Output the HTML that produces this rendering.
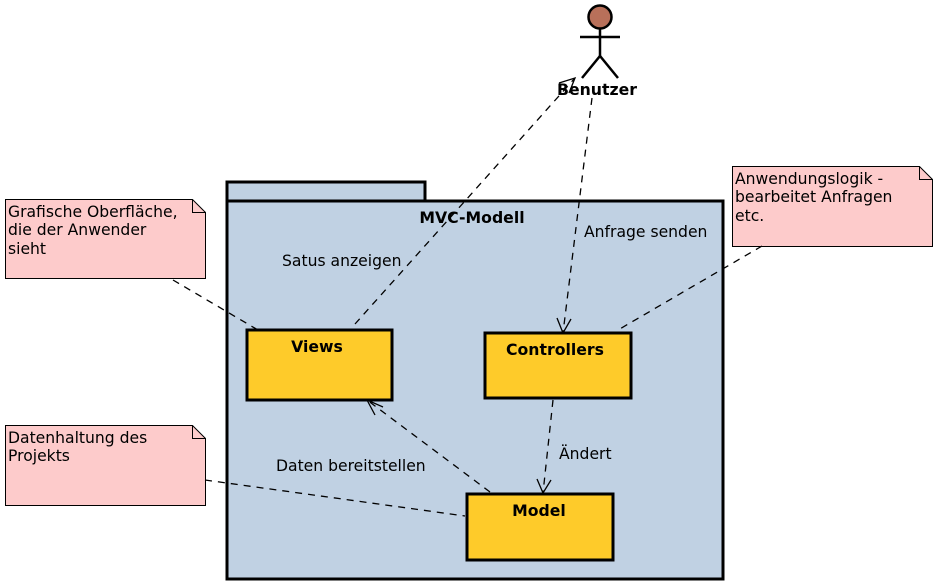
<!DOCTYPE html>
<html><head><meta charset="utf-8"><style>
html,body{margin:0;padding:0;background:#fff;width:937px;height:586px;overflow:hidden}
svg text{font-family:"DejaVu Sans","Liberation Sans",sans-serif}
</style></head><body>
<svg width="937" height="586" viewBox="0 0 937 586" xmlns="http://www.w3.org/2000/svg">
<!-- package -->
<rect x="227" y="182" width="198" height="20" fill="#c0d1e3" stroke="#000" stroke-width="3"/>
<rect x="227" y="201" width="496" height="378" fill="#c0d1e3" stroke="#000" stroke-width="3"/>
<text x="472" y="223" font-size="15.7" font-weight="bold" text-anchor="middle">MVC-Modell</text>
<!-- notes -->
<g stroke="#000" stroke-width="1" fill="#fdcbcb">
<path d="M5.5,199.5 H192.5 L205.5,212.5 V278.5 H5.5 Z"/>
<path d="M192.5,199.5 V212.5 H205.5" fill="none"/>
<path d="M5.5,425.5 H192.5 L205.5,438.5 V505.5 H5.5 Z"/>
<path d="M192.5,425.5 V438.5 H205.5" fill="none"/>
<path d="M732.5,166.5 H919.5 L932.5,179.5 V246.5 H732.5 Z"/>
<path d="M919.5,166.5 V179.5 H932.5" fill="none"/>
</g>
<g font-size="15.6" fill="#000">
<text x="8" y="217">Grafische Oberfläche,</text>
<text x="8" y="235">die der Anwender</text>
<text x="8" y="254">sieht</text>
<text x="8" y="443">Datenhaltung des</text>
<text x="8" y="461">Projekts</text>
<text x="735" y="184">Anwendungslogik -</text>
<text x="735" y="202">bearbeitet Anfragen</text>
<text x="735" y="221">etc.</text>
</g>
<!-- components -->
<g fill="#fecb2a" stroke="#000" stroke-width="3">
<rect x="247" y="330" width="145" height="70"/>
<rect x="485" y="333" width="146" height="65"/>
<rect x="467" y="494" width="146" height="66"/>
</g>
<g font-size="15.7" font-weight="bold" text-anchor="middle">
<text x="317" y="352">Views</text>
<text x="555" y="355">Controllers</text>
<text x="539" y="516">Model</text>
</g>
<!-- connectors -->
<g stroke="#000" stroke-width="1.3" fill="none" stroke-dasharray="7,6">
<path d="M355,324 L575,78"/>
<path d="M592,98 L563,333"/>
<path d="M553,400 L543,493"/>
<path d="M490,492 L367,400"/>
<path d="M173,280 L258,330"/>
<path d="M205,480 L465,516"/>
<path d="M762,246 L618,330"/>
</g>
<g stroke="#000" stroke-width="1.3" fill="none">
<path d="M559,83 L575,78 L569,93"/>
<path d="M557,318 L563,333 L571,319"/>
<path d="M537,479 L543,493 L551,480"/>
<path d="M383,407 L367,400 L375,415"/>
</g>
<g font-size="15.6">
<text x="282" y="266">Satus anzeigen</text>
<text x="584" y="237">Anfrage senden</text>
<text x="559" y="459">Ändert</text>
<text x="276" y="471">Daten bereitstellen</text>
</g>
<!-- actor -->
<circle cx="600" cy="17" r="11.5" fill="#b8705a" stroke="#000" stroke-width="2.5"/>
<g stroke="#000" stroke-width="2.5" fill="none">
<path d="M600,29 V57"/><path d="M580,37 H620"/>
<path d="M582,78 L600,56 L618,78"/>
</g>
<text x="597" y="95" font-size="15.7" font-weight="bold" text-anchor="middle">Benutzer</text>
</svg>
</body></html>
